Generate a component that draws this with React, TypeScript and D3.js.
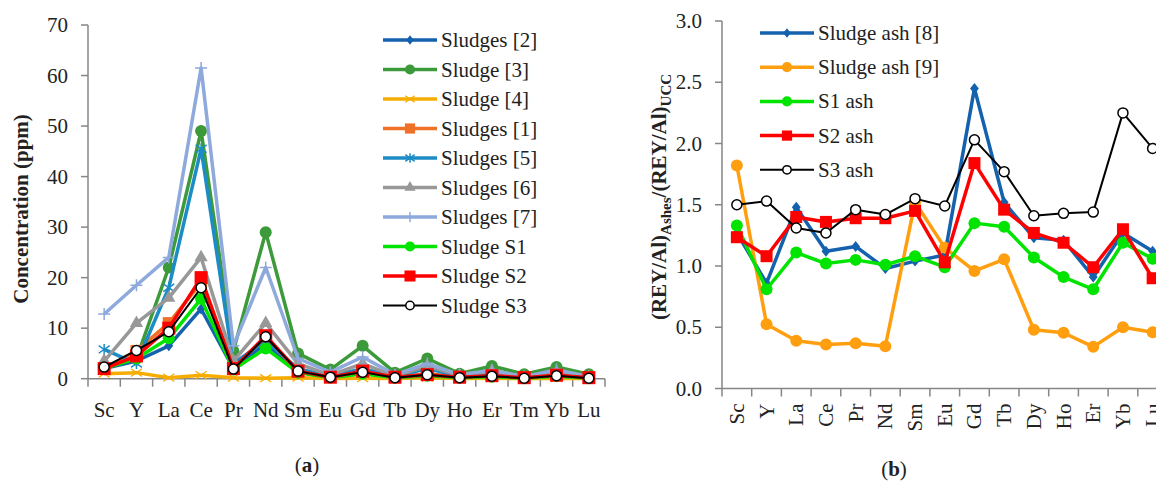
import React from 'react';
import * as d3 from 'd3';

// categories
const ELEMENTS_A = ['Sc', 'Y', 'La', 'Ce', 'Pr', 'Nd', 'Sm', 'Eu', 'Gd', 'Tb', 'Dy', 'Ho', 'Er', 'Tm', 'Yb', 'Lu'];
const ELEMENTS_B = ['Sc', 'Y', 'La', 'Ce', 'Pr', 'Nd', 'Sm', 'Eu', 'Gd', 'Tb', 'Dy', 'Ho', 'Er', 'Yb', 'Lu'];

// (a) sludge concentrations, ppm
const sludges2 = [2, 3.5, 6.5, 13.8, 2, 7, 1.3, 0.3, 1.2, 0.2, 1, 0.2, 0.5, 0.1, 0.5, 0.1];
const sludge3 = [2.5, 4, 22, 49, 5.5, 29, 5, 1.8, 6.5, 1.2, 4, 1, 2.5, 0.9, 2.3, 0.9];
const sludge4 = [1, 1.2, 0.2, 0.7, 0.2, 0.1, 0.2, 0.05, 0.1, 0.05, 0.2, 0.05, 0.1, 0.02, 0.1, 0.02];
const sludges1 = [2, 5.5, 11, 19, 2.5, 8, 1.5, 0.4, 1.5, 0.3, 1, 0.3, 0.6, 0.2, 0.7, 0.2];
const sludges5 = [5.8, 3, 18, 45.5, 3, 7.5, 2, 0.5, 2, 0.5, 2, 0.5, 1, 0.2, 1, 0.2];
const sludges6 = [3.5, 11, 16, 24, 3.5, 11, 3, 0.7, 3, 0.5, 2.5, 0.6, 1.5, 0.3, 1.3, 0.3];
const sludges7 = [12.8, 18.5, 24, 61.5, 6.5, 22, 4, 1.3, 4.3, 0.8, 3, 0.8, 1.7, 0.4, 1.8, 0.4];
const sludgeS1 = [2, 4, 8, 15.8, 1.8, 6, 1.2, 0.2, 1, 0.2, 0.6, 0.2, 0.4, 0.1, 0.5, 0.1];
const sludgeS2 = [2, 4.5, 10, 20, 2, 8.5, 1.5, 0.3, 1.5, 0.3, 0.8, 0.3, 0.6, 0.2, 0.7, 0.2];
const sludgeS3 = [2.3, 5.6, 9.3, 18, 1.9, 8.3, 1.5, 0.3, 1.3, 0.2, 0.8, 0.2, 0.5, 0.1, 0.6, 0.1];

// (b) ash ratios
const ash8 = [1.27, 0.86, 1.48, 1.12, 1.16, 0.98, 1.04, 1.09, 2.45, 1.52, 1.23, 1.21, 0.91, 1.27, 1.12];
const ash9 = [1.82, 0.525, 0.39, 0.36, 0.37, 0.345, 1.52, 1.15, 0.96, 1.055, 0.48, 0.455, 0.34, 0.5, 0.46];
const s1Ash = [1.33, 0.81, 1.11, 1.02, 1.05, 1.01, 1.08, 0.99, 1.35, 1.32, 1.07, 0.91, 0.81, 1.19, 1.06];
const s2Ash = [1.235, 1.08, 1.4, 1.36, 1.39, 1.39, 1.45, 1.03, 1.84, 1.46, 1.27, 1.19, 0.99, 1.3, 0.9];
const s3Ash = [1.5, 1.53, 1.31, 1.27, 1.46, 1.42, 1.55, 1.49, 2.03, 1.77, 1.41, 1.43, 1.44, 2.25, 1.96];

const TICKS_A = [0, 10, 20, 30, 40, 50, 60, 70];
const TICKS_B = [0, 0.5, 1, 1.5, 2, 2.5, 3];

type Marker = 'diamond' | 'circle' | 'x' | 'square' | 'asterisk' | 'triangle' | 'plus' | 'open';

interface Series { name: string; values: number[]; color: string; marker: Marker; width: number; size: number; }

const seriesA: Series[] = [
    { name: 'Sludges [2]', values: sludges2, color: '#1461ae', marker: 'diamond', width: 3.5, size: 11 },
    { name: 'Sludge [3]', values: sludge3, color: '#3d9a3a', marker: 'circle', width: 3.5, size: 12 },
    { name: 'Sludge [4]', values: sludge4, color: '#f6ad00', marker: 'x', width: 3.5, size: 11 },
    { name: 'Sludges [1]', values: sludges1, color: '#ee7127', marker: 'square', width: 3.5, size: 12 },
    { name: 'Sludges [5]', values: sludges5, color: '#1c8cc6', marker: 'asterisk', width: 3.5, size: 11 },
    { name: 'Sludges [6]', values: sludges6, color: '#989898', marker: 'triangle', width: 3.5, size: 13 },
    { name: 'Sludges [7]', values: sludges7, color: '#8ea9db', marker: 'plus', width: 3.5, size: 12 },
    { name: 'Sludge S1', values: sludgeS1, color: '#00e400', marker: 'circle', width: 3.5, size: 12 },
    { name: 'Sludge S2', values: sludgeS2, color: '#ff0000', marker: 'square', width: 3.5, size: 13 },
    { name: 'Sludge S3', values: sludgeS3, color: '#000000', marker: 'open', width: 2, size: 11 },
];

const seriesB: Series[] = [
    { name: 'Sludge ash [8]', values: ash8, color: '#1461ae', marker: 'diamond', width: 3.5, size: 11 },
    { name: 'Sludge ash [9]', values: ash9, color: '#ff9f0f', marker: 'circle', width: 3.5, size: 12 },
    { name: 'S1 ash', values: s1Ash, color: '#00e400', marker: 'circle', width: 3.5, size: 12 },
    { name: 'S2 ash', values: s2Ash, color: '#ff0000', marker: 'square', width: 3.5, size: 12 },
    { name: 'S3 ash', values: s3Ash, color: '#000000', marker: 'open', width: 2, size: 11 },
];

const FONT = "'Liberation Serif', 'Times New Roman', serif";
const FS = 21;
const AXIS = '#868686';

const drawMarker = (s: Series, x: number, y: number, key: string, legend = false) => {
    const sz = legend ? s.size * 0.85 : s.size;
    const h = sz / 2;
    switch (s.marker) {
        case 'diamond':
            return <path key={key} d={`M${x},${y - h}L${x + h * 0.8},${y}L${x},${y + h}L${x - h * 0.8},${y}Z`} fill={s.color} />;
        case 'circle':
            return <circle key={key} cx={x} cy={y} r={h} fill={s.color} />;
        case 'square':
            return <rect key={key} x={x - h} y={y - h} width={sz} height={sz} fill={s.color} />;
        case 'triangle':
            return <path key={key} d={d3.symbol(d3.symbolTriangle, sz * sz * 0.45)()!} transform={`translate(${x},${y})`} fill={s.color} />;
        case 'x':
            return <path key={key} d={`M${x - h},${y - h * 0.7}L${x + h},${y + h * 0.7}M${x - h},${y + h * 0.7}L${x + h},${y - h * 0.7}`} stroke={s.color} strokeWidth={1.3} fill='none' />;
        case 'asterisk':
            return <path key={key} d={`M${x - h},${y - h * 0.7}L${x + h},${y + h * 0.7}M${x - h},${y + h * 0.7}L${x + h},${y - h * 0.7}M${x},${y - h}L${x},${y + h}`} stroke={s.color} strokeWidth={1.5} fill='none' />;
        case 'plus':
            return <path key={key} d={`M${x - h},${y}L${x + h},${y}M${x},${y - h}L${x},${y + h}`} stroke={s.color} strokeWidth={1.5} fill='none' />;
        case 'open':
            return <circle key={key} cx={x} cy={y} r={h - 0.5} fill='#fff' stroke={s.color} strokeWidth={1.5} />;
    }
};

const Panel = (props: {
    cats: string[]; series: Series[]; x: d3.ScaleBand<string>; y: d3.ScaleLinear<number, number>;
    ticks: number[]; fmt: (v: number) => string; rotateLabels: boolean;
}) => {
    const { cats, series, x, y, ticks, fmt, rotateLabels } = props;
    const [x0, x1] = x.range();
    const [y0, y1] = y.range();
    const bw = x.bandwidth();
    const line = d3.line<number>().x((_, i) => x(cats[i])! + bw / 2).y(v => y(v));

    return (
        <g>
            <line x1={x0} x2={x0} y1={y0} y2={y1} stroke={AXIS} strokeWidth={1.5} />
            <line x1={x0} x2={x1} y1={y0} y2={y0} stroke={AXIS} strokeWidth={1.5} />
            {ticks.map(t => (
                <g key={`yt-${t}`}>
                    <line x1={x0 - 7} x2={x0} y1={y(t)} y2={y(t)} stroke={AXIS} strokeWidth={1.5} />
                    <text x={x0 - 20} y={y(t)} textAnchor='end' dominantBaseline='central' fontSize={FS}>{fmt(t)}</text>
                </g>
            ))}
            {cats.map((c, i) => (
                <line key={`xt-${i}`} x1={x(c)!} x2={x(c)!} y1={y0} y2={y0 + 8} stroke={AXIS} strokeWidth={1.5} />
            ))}
            <line x1={x1} x2={x1} y1={y0} y2={y0 + 8} stroke={AXIS} strokeWidth={1.5} />
            {cats.map(c => rotateLabels ? (
                <text key={`xl-${c}`} transform={`translate(${x(c)! + bw / 2},${y0 + 15}) rotate(-90)`} textAnchor='end' dominantBaseline='central' fontSize={FS}>{c}</text>
            ) : (
                <text key={`xl-${c}`} x={x(c)! + bw / 2} y={y0 + 38} textAnchor='middle' fontSize={FS}>{c}</text>
            ))}
            {series.map((s, si) => (
                <g key={`s-${si}`}>
                    <path d={line(s.values)!} fill='none' stroke={s.color} strokeWidth={s.width} strokeLinejoin='round' />
                    {s.values.map((v, i) => drawMarker(s, x(cats[i])! + bw / 2, y(v), `m-${si}-${i}`))}
                </g>
            ))}
        </g>
    );
};

const Legend = (props: { series: Series[]; left: number; top: number; step: number }) => {
    const { series, left, top, step } = props;
    return (
        <g>
            {series.map((s, i) => {
                const yy = top + i * step;
                return (
                    <g key={`lg-${i}`}>
                        <line x1={left} x2={left + 54} y1={yy} y2={yy} stroke={s.color} strokeWidth={s.width} />
                        {drawMarker(s, left + 27, yy, `lm-${i}`, true)}
                        <text x={left + 58} y={yy} dominantBaseline='central' fontSize={FS}>{s.name}</text>
                    </g>
                );
            })}
        </g>
    );
};

export default function App() {
    const xA = d3.scaleBand<string>().domain(ELEMENTS_A).range([88, 605]).paddingInner(0).paddingOuter(0);
    const yA = d3.scaleLinear().domain([0, 70]).range([378.7, 25]);
    const xB = d3.scaleBand<string>().domain(ELEMENTS_B).range([722, 1167.5]).paddingInner(0).paddingOuter(0);
    const yB = d3.scaleLinear().domain([0, 3]).range([388.5, 21]);

    return (
        <svg width={1156} height={481} style={{ position: 'absolute', left: 0, top: 0, background: '#fff' }} fontFamily={FONT} fill='#222'>
            <Panel cats={ELEMENTS_A} series={seriesA} x={xA} y={yA} ticks={TICKS_A} fmt={d3.format('d')} rotateLabels={false} />
            <Legend series={seriesA} left={383} top={40} step={29.5} />
            <text transform='translate(28,209) rotate(-90)' textAnchor='middle' fontSize={FS} fontWeight='bold'>Concentration (ppm)</text>
            <text x={307} y={472} textAnchor='middle' fontSize={FS}>(<tspan fontWeight='bold'>a</tspan>)</text>

            <Panel cats={ELEMENTS_B} series={seriesB} x={xB} y={yB} ticks={TICKS_B} fmt={d3.format('.1f')} rotateLabels={true} />
            <Legend series={seriesB} left={760} top={33} step={34.2} />
            <text transform='translate(666,197) rotate(-90)' textAnchor='middle' fontSize={FS} fontWeight='bold'>
                (REY/Al)<tspan fontSize={15} dy={5}>Ashes</tspan><tspan dy={-5}>/(REY/Al)</tspan><tspan fontSize={15} dy={5}>UCC</tspan>
            </text>
            <text x={894} y={476} textAnchor='middle' fontSize={FS}>(<tspan fontWeight='bold'>b</tspan>)</text>
        </svg>
    );
}
